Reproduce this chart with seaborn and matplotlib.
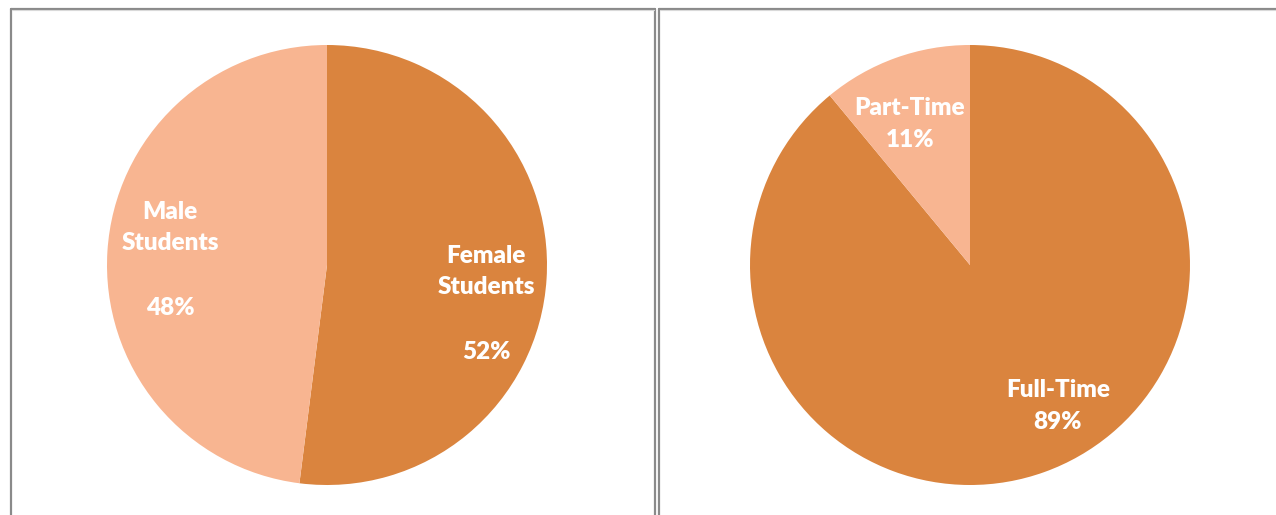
import matplotlib
matplotlib.use("Agg")
import matplotlib.pyplot as plt
import seaborn as sns
from matplotlib.lines import Line2D

sns.set_theme(style="white")
plt.rcParams['font.family'] = ['Lato', 'DejaVu Sans']

# Data
gender_labels = ["Female\nStudents", "Male\nStudents"]
gender_values = [52, 48]
status_labels = ["Full-Time", "Part-Time"]
status_values = [89, 11]

dark = "#DA843E"
light = "#F8B591"

W, H = 1276, 515
fig = plt.figure(figsize=(W / 100, H / 100), dpi=100)
fig.patch.set_facecolor("white")


def pie_axes(cx, cy, r):
    return fig.add_axes([(cx - r) / W, (H - cy - r) / H, 2 * r / W, 2 * r / H])


def draw_pie(ax, values, labels, label_pos, pct_pos):
    wedges, _ = ax.pie(values, colors=[dark, light], startangle=90,
                       counterclock=False, radius=1,
                       wedgeprops=dict(linewidth=0))
    ax.set_xlim(-1, 1)
    ax.set_ylim(-1, 1)
    ax.set_aspect("equal")
    ax.axis("off")
    for lab, v, lp, pp in zip(labels, values, label_pos, pct_pos):
        ax.text(lp[0], lp[1], lab, ha="center", va="center", color="white",
                fontsize=17.5, fontweight="heavy", linespacing=1.45)
        ax.text(pp[0], pp[1], f"{v}%", ha="center", va="center", color="white",
                fontsize=17.5, fontweight="heavy")


r = 220
ax1 = pie_axes(327, 265, r)
draw_pie(ax1, gender_values, gender_labels,
         label_pos=[((486 - 327) / r, (265 - 271.5) / r), ((170 - 327) / r, (265 - 227.5) / r)],
         pct_pos=[((486 - 327) / r, (265 - 352) / r), ((170 - 327) / r, (265 - 308) / r)])

ax2 = pie_axes(970, 265, r)
draw_pie(ax2, status_values, status_labels,
         label_pos=[((1058 - 970) / r, (265 - 390) / r), ((910 - 970) / r, (265 - 108) / r)],
         pct_pos=[((1058 - 970) / r, (265 - 422) / r), ((910 - 970) / r, (265 - 140) / r)])

# Panel borders
def line(x0, y0, x1, y1, c="#8a8a8a", lw=1.6):
    fig.add_artist(Line2D([x0 / W, x1 / W], [1 - y0 / H, 1 - y1 / H],
                          color=c, linewidth=lw, transform=fig.transFigure))

line(10.5, 8.5, 655, 8.5)
line(10.5, 8.5, 10.5, 515)
line(655, 8.5, 655, 515)
line(658.5, 8.5, 1276, 8.5)
line(658.5, 8.5, 658.5, 515)
line(12, 10, 654, 10, c="#d9d9d9", lw=0.8)
line(660, 10, 1276, 10, c="#d9d9d9", lw=0.8)

fig.savefig("out.png", dpi=100, facecolor="white")
